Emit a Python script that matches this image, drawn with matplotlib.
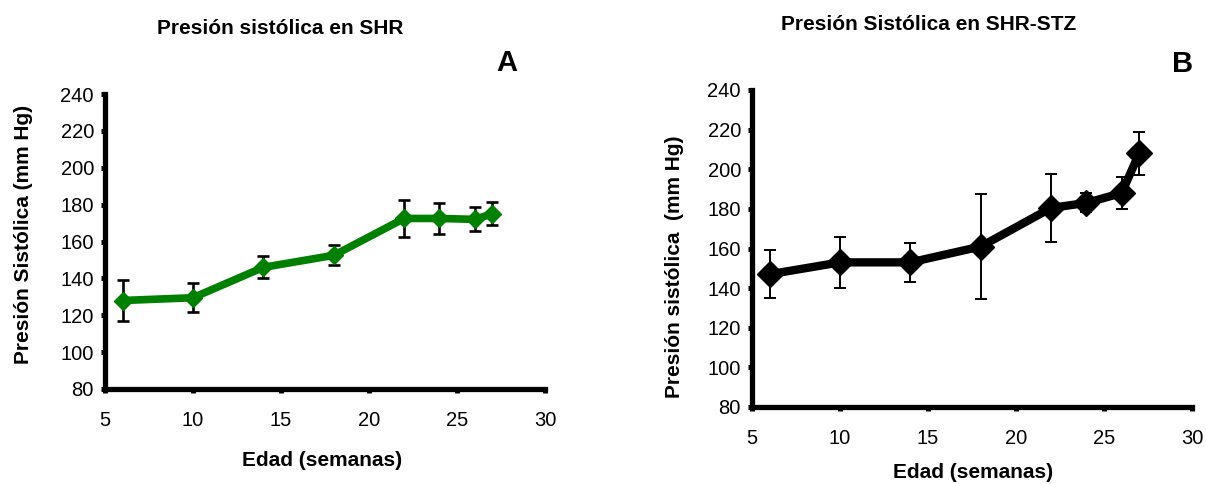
import matplotlib
matplotlib.use("Agg")
import matplotlib.pyplot as plt

plt.rcParams['font.family'] = ['Liberation Sans', 'DejaVu Sans']

weeks = [6, 10, 14, 18, 22, 24, 26, 27]
shr_mean = [128, 129.5, 146, 152.5, 172.5, 172.5, 172, 175]
shr_err = [11, 8, 6, 5.5, 10, 8.5, 6.5, 6.3]
stz_mean = [147, 153, 153, 161, 180.5, 183, 188, 208]
stz_err = [12, 12.7, 10, 26.7, 17, 4.8, 8, 11]

xticks = [5, 10, 15, 20, 25, 30]
yticks = [80, 100, 120, 140, 160, 180, 200, 220, 240]

W, H = 1206, 484
fig = plt.figure(figsize=(W / 100, H / 100), dpi=100)

axA = fig.add_axes([105 / W, 1 - 389 / H, 440 / W, 295 / H])
axB = fig.add_axes([752 / W, 1 - 407 / H, 440 / W, 317 / H])

def style(ax):
    ax.set_xlim(5, 30)
    ax.set_ylim(80, 240)
    ax.set_xticks(xticks)
    ax.set_yticks(yticks)
    for s in ['top', 'right']:
        ax.spines[s].set_visible(False)
    for s in ['left', 'bottom']:
        ax.spines[s].set_linewidth(3.8)
        ax.spines[s].set_capstyle('projecting')
    ax.tick_params(axis='both', direction='out', length=3, width=3.6,
                   labelsize=14.5)
    ax.tick_params(axis='x', pad=13)
    ax.tick_params(axis='y', pad=5)

style(axA)
style(axB)

axA.errorbar(weeks, shr_mean, yerr=shr_err, fmt='none', ecolor='black',
             elinewidth=1.9, capsize=4.3, capthick=1.9, zorder=2)
axA.plot(weeks, shr_mean, color='#008000', lw=5.5, marker='D', ms=9,
         mfc='#008000', mec='#008000', zorder=3, clip_on=False)

axB.errorbar(weeks, stz_mean, yerr=stz_err, fmt='none', ecolor='black',
             elinewidth=1.4, capsize=4, capthick=1.4, zorder=2)
axB.plot(weeks, stz_mean, color='black', lw=6, marker='D', ms=13,
         mfc='black', mec='black', zorder=3, clip_on=False)

fig.text(280 / W, 1 - 29 / H, 'Presión sistólica en SHR', ha='center',
         va='center', fontsize=15, fontweight='bold')
fig.text(507 / W, 1 - 63 / H, 'A', ha='center', va='center', fontsize=21,
         fontweight='bold')
fig.text(929 / W, 1 - 25 / H, 'Presión Sistólica en SHR-STZ', ha='center',
         va='center', fontsize=15, fontweight='bold')
fig.text(1183 / W, 1 - 64 / H, 'B', ha='center', va='center', fontsize=21,
         fontweight='bold')

fig.text(24 / W, 1 - 234 / H, 'Presión Sistólica (mm Hg)', ha='center',
         va='center', rotation=90, fontsize=15, fontweight='bold')
fig.text(674 / W, 1 - 267 / H, 'Presión sistólica  (mm Hg)', ha='center',
         va='center', rotation=90, fontsize=15, fontweight='bold')
fig.text(322 / W, 1 - 461 / H, 'Edad (semanas)', ha='center', va='center',
         fontsize=15, fontweight='bold')
fig.text(973 / W, 1 - 473 / H, 'Edad (semanas)', ha='center', va='center',
         fontsize=15, fontweight='bold')

fig.savefig('out.png', dpi=100)
